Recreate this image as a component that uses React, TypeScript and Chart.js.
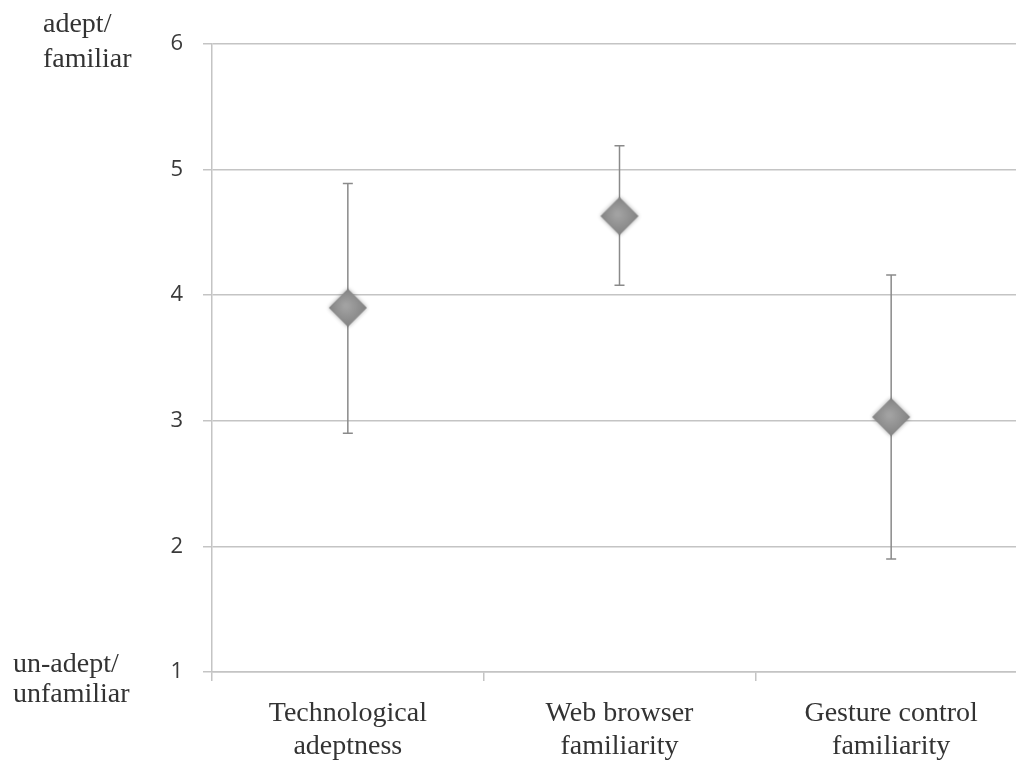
import React, { useEffect, useRef } from "react";
import { Chart, registerables } from "chart.js";
Chart.register(...registerables);

const categories: string[][] = [
  ["Technological", "adeptness"],
  ["Web browser", "familiarity"],
  ["Gesture control", "familiarity"],
];
const means = [3.9, 4.63, 3.03];
const upper = [4.89, 5.19, 4.16];
const lower = [2.9, 4.08, 1.9];
const yMin = 1;
const yMax = 6;
const topLabel = ["adept/", "familiar"];
const bottomLabel = ["un-adept/", "unfamiliar"];

function makeDiamond(): HTMLCanvasElement {
  const size = 48;
  const c = document.createElement("canvas");
  c.width = size;
  c.height = size;
  const ctx = c.getContext("2d")!;
  const cx = size / 2;
  const r = 19;
  ctx.save();
  ctx.shadowColor = "rgba(0,0,0,0.35)";
  ctx.shadowBlur = 4;
  ctx.beginPath();
  ctx.moveTo(cx, cx - r);
  ctx.lineTo(cx + r, cx);
  ctx.lineTo(cx, cx + r);
  ctx.lineTo(cx - r, cx);
  ctx.closePath();
  const g = ctx.createRadialGradient(cx - 2, cx - 2, 2, cx, cx, r);
  g.addColorStop(0, "#a2a2a2");
  g.addColorStop(1, "#828282");
  ctx.fillStyle = g;
  ctx.fill();
  ctx.restore();
  return c;
}

const errorBarPlugin = {
  id: "errorBars",
  beforeDatasetsDraw(chart: any) {
    const { ctx, scales } = chart;
    const x = scales.x;
    const y = scales.y;
    ctx.save();
    ctx.strokeStyle = "#8a8a8a";
    ctx.lineWidth = 1.5;
    for (let i = 0; i < means.length; i++) {
      const px = x.getPixelForValue(i);
      const pt = y.getPixelForValue(upper[i]);
      const pb = y.getPixelForValue(lower[i]);
      ctx.beginPath();
      ctx.moveTo(px, pt);
      ctx.lineTo(px, pb);
      ctx.moveTo(px - 5, pt);
      ctx.lineTo(px + 5, pt);
      ctx.moveTo(px - 5, pb);
      ctx.lineTo(px + 5, pb);
      ctx.stroke();
    }
    ctx.restore();
  },
};

const sideLabelPlugin = {
  id: "sideLabels",
  afterDraw(chart: any) {
    const { ctx } = chart;
    ctx.save();
    ctx.font = '28px "Liberation Serif"';
    ctx.fillStyle = "#333333";
    ctx.textAlign = "left";
    ctx.textBaseline = "alphabetic";
    ctx.fillText(topLabel[0], 43, 32);
    ctx.fillText(topLabel[1], 43, 67);
    ctx.fillText(bottomLabel[0], 13, 672);
    ctx.fillText(bottomLabel[1], 13, 702);
    ctx.restore();
  },
};

export default function App() {
  const ref = useRef<HTMLCanvasElement>(null);
  useEffect(() => {
    if (!ref.current) return;
    const diamond = makeDiamond();
    const chart = new Chart(ref.current, {
      type: "line",
      data: {
        labels: categories,
        datasets: [
          {
            data: means,
            showLine: false,
            pointStyle: diamond as any,
            pointRadius: 20,
            borderColor: "#888",
            backgroundColor: "#888",
          },
        ],
      },
      options: {
        responsive: false,
        animation: false,
        devicePixelRatio: 1,
        layout: { padding: { top: 44, right: 0, left: 0, bottom: 0 } },
        plugins: { legend: { display: false }, tooltip: { enabled: false } },
        scales: {
          x: {
            type: "category",
            offset: true,
            grid: {
              offset: true,
              drawOnChartArea: false,
              drawTicks: true,
              tickLength: 9,
              color: "#c4c4c4",
              lineWidth: 1.5,
            },
            border: { display: true, color: "#c4c4c4", width: 1.5 },
            ticks: {
              color: "#333333",
              font: { family: "Liberation Serif", size: 28, lineHeight: 33 / 28 },
              padding: 16,
              maxRotation: 0,
              autoSkip: false,
            },
            afterFit(s: any) {
              s.height = 92;
            },
          },
          y: {
            min: yMin,
            max: yMax,
            ticks: {
              stepSize: 1,
              color: "#3a3a3a",
              font: { family: "Open Sans", size: 22 },
              padding: 20,
            },
            grid: {
              color: "#c4c4c4",
              lineWidth: 1.5,
              drawTicks: true,
              tickLength: 9,
            },
            border: { display: true, color: "#c4c4c4", width: 1.5 },
            afterFit(s: any) {
              s.width = 212;
            },
          },
        },
      },
      plugins: [errorBarPlugin, sideLabelPlugin],
    });
    return () => chart.destroy();
  }, []);
  return (
    <div
      style={{
        position: "absolute",
        left: 0,
        top: 0,
        width: 1016,
        height: 764,
        overflow: "hidden",
        background: "#fff",
      }}
    >
      <div style={{ width: 1048, height: 764 }}>
        <canvas ref={ref} width={1048} height={764} style={{ display: "block" }} />
      </div>
    </div>
  );
}
